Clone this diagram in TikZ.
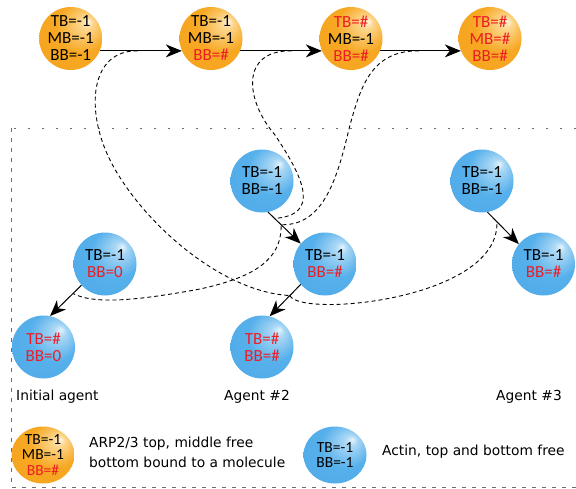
\documentclass[tikz,border=0pt]{standalone}
\usepackage{fontspec}
\setmainfont{DejaVu Sans}
\newfontfamily\ballfont{Carlito}
\usetikzlibrary{arrows.meta,shapes.geometric}

\definecolor{boundred}{HTML}{EE1C25}
\definecolor{arphi}{HTML}{FFF4DE}
\definecolor{arpmid}{HTML}{FCD68C}
\definecolor{arpmain}{HTML}{F7A823}
\definecolor{arplow}{HTML}{F4A01A}
\definecolor{actinhi}{HTML}{E4F3FC}
\definecolor{actinmid}{HTML}{A9D7F5}
\definecolor{actinmain}{HTML}{56B0EB}
\definecolor{actinlow}{HTML}{4AA6E6}
\definecolor{framegray}{HTML}{6E6E6E}

\pgfdeclareradialshading{arpshade}{\pgfpoint{14bp}{14bp}}{color(0bp)=(arphi); color(5bp)=(arpmid); color(20bp)=(arpmain); color(50bp)=(arplow)}
\pgfdeclareradialshading{actinshade}{\pgfpoint{14bp}{14bp}}{color(0bp)=(actinhi); color(5bp)=(actinmid); color(20bp)=(actinmain); color(50bp)=(actinlow)}

\newcommand{\bnd}[1]{\textcolor{boundred}{#1}}

\begin{document}
\begin{tikzpicture}[x=1pt, y=-1pt,
		ball/.style={circle, minimum size=63pt, inner sep=-6pt, align=center, font=\ballfont\fontsize{17}{17}\selectfont},
		arp/.style={ball, shading=arpshade},
		actin/.style={ball, shading=actinshade},
		keyball/.style={ellipse, minimum width=63pt, minimum height=57pt, inner sep=-8pt, align=center, font=\ballfont\fontsize{15.5}{15.5}\selectfont},
		link/.style={-{Stealth[length=16pt,width=13pt,inset=5pt]}, line width=1pt},
		bond/.style={dash pattern=on 4pt off 3pt, line width=0.9pt},
		caption/.style={font=\fontsize{13.8}{20}\selectfont, inner sep=0pt}
	]
	\useasboundingbox (0,0) rectangle (576,488);

	% agent frame
	\draw[framegray, line width=1pt, dash pattern=on 2.5pt off 11.5pt] (576,128) -- (11,128);
	\draw[framegray, line width=1pt, dash pattern=on 3.5pt off 6.5pt] (11,128) -- (11,487) -- (576,487);

	% ARP2/3 states
	\node[arp] (s1) at (70.7,38.5) {TB=-1\\MB=-1\\BB=-1};
	\node[arp] (s2) at (211,38.5) {TB=-1\\MB=-1\\\bnd{BB=\#}};
	\node[arp] (s3) at (351,38.5) {\bnd{TB=\#}\\MB=-1\\\bnd{BB=\#}};
	\node[arp] (s4) at (490,38.5) {\bnd{TB=\#}\\\bnd{MB=\#}\\\bnd{BB=\#}};

	% actin agents
	\node[actin] (i0) at (105,264) {TB=-1\\\bnd{BB=0}};
	\node[actin] (i1) at (43.5,347) {\bnd{TB=\#}\\\bnd{BB=0}};
	\node[actin] (b0) at (262,181) {TB=-1\\BB=-1};
	\node[actin] (b1) at (325,264) {TB=-1\\\bnd{BB=\#}};
	\node[actin] (b2) at (262,347) {\bnd{TB=\#}\\\bnd{BB=\#}};
	\node[actin] (c0) at (482,181) {TB=-1\\BB=-1};
	\node[actin] (c1) at (543.5,264) {TB=-1\\\bnd{BB=\#}};

	\node[caption, anchor=base west] (capinit) at (16,400) {Initial agent};
	\node[caption, anchor=base] (captwo) at (257,400) {Agent \#2};
	\node[caption, anchor=base] (capthree) at (529,400) {Agent \#3};

	% transitions
	\draw[link] (s1.-23) -- coordinate[pos=0.46] (t1) (s2.203);
	\draw[link] (s2.-23) -- coordinate[pos=0.63] (t2) (s3.203);
	\draw[link] (s3.-23) -- coordinate[pos=0.48] (t3) (s4.203);
	\draw[link] (i0.222) -- coordinate[pos=0.27] (ti) (i1.78);
	\draw[link] (b0.281) -- coordinate[pos=0.2] (tb1) coordinate[pos=0.4] (tb1x) (b1.140);
	\draw[link] (b1.220) -- coordinate[pos=0.35] (tb2) (b2.76);
	\draw[link] (c0.280) -- coordinate[pos=0.3] (tc) (c1.141);

	% bonds between transitions
	\draw[bond] (t1) .. controls (90,50) and (85,110) .. (110,160) .. controls (140,220) and (220,292) .. (tb2);
	\draw[bond] (tb2) .. controls (300,318) and (500,300) .. (tc);
	\draw[bond] (t2) .. controls (240,50) and (245,100) .. (275,135) .. controls (305,180) and (320,215) .. (tb1);
	\draw[bond] (t3) .. controls (370,50) and (360,90) .. (350,125) .. controls (338,175) and (325,226) .. (tb1x)
		.. controls (282,262) and (250,278) .. (200,289) .. controls (140,300) and (95,305) .. (ti);

	% key
	\node[keyball, shading=arpshade] (keyarp) at (43,455) {TB=-1\\MB=-1\\\bnd{BB=\#}};
	\node[caption, anchor=west, align=left] (keyarptext) at (89,452) {ARP2/3 top, middle free\\bottom bound to a molecule};
	\node[keyball, shading=actinshade] (keyactin) at (335,455) {TB=-1\\BB=-1};
	\node[caption, anchor=base west] (keyactintext) at (382,455) {Actin, top and bottom free};
\end{tikzpicture}
\end{document}
